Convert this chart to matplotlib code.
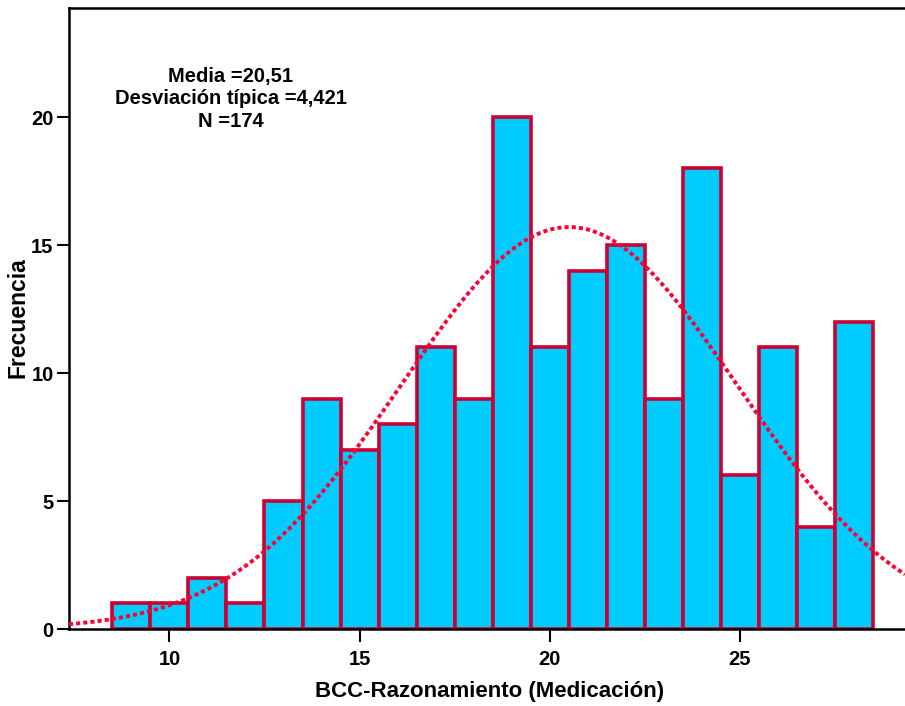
import numpy as np
import matplotlib.pyplot as plt

plt.rcParams['font.family'] = ['Liberation Sans', 'DejaVu Sans']
plt.rcParams['font.weight'] = 'bold'

# frecuencias por valor de la puntuacion
valores = [9, 10, 11, 12, 13, 14, 15, 16, 17, 18, 19, 20, 21, 22, 23, 24, 25, 26, 27, 28]
frecuencias = [1, 1, 2, 1, 5, 9, 7, 8, 11, 9, 20, 11, 14, 15, 9, 18, 6, 11, 4, 12]
media = 20.51
desv = 4.421
n = 174

fig = plt.figure(figsize=(9.05, 7.06), dpi=100)
ax = fig.add_axes([0.0762, 0.109, 0.9238, 0.8797])

ax.bar(valores, frecuencias, width=1.0, color='#00CCFF', edgecolor='#CC0033',
       linewidth=2.6, zorder=2)

# curva normal escalada al numero de casos
x0, x1 = 7.36, 29.34
xs = np.linspace(x0, x1, 400)
curva = n * 1.0 / (desv * np.sqrt(2 * np.pi)) * np.exp(-0.5 * ((xs - media) / desv) ** 2)
ax.plot(xs, curva, color='#FF0033', linewidth=2.8, linestyle=(0, (1.05, 0.8)), zorder=3)

ax.set_xlim(x0, x1)
ax.set_ylim(0, 24.26)
ax.set_xticks([10, 15, 20, 25])
ax.set_yticks([0, 5, 10, 15, 20])
ax.tick_params(axis='y', direction='out', length=8.6, width=1.5, pad=2.5, labelsize=14.5)
ax.tick_params(axis='x', direction='out', length=9.4, width=1.5, pad=5.5, labelsize=14.5)
for lab in ax.get_xticklabels() + ax.get_yticklabels():
    lab.set_fontweight('bold')

ax.spines['right'].set_visible(False)
for s in ['left', 'bottom', 'top']:
    ax.spines[s].set_linewidth(1.8)

fig.text(0.5411, 1 - 692 / 706, 'BCC-Razonamiento (Medicación)', ha='center', va='center',
         fontsize=16, fontweight='bold')
fig.text(18 / 905, 1 - 318 / 706, 'Frecuencia', ha='center', va='center', rotation=90,
         fontsize=16.5, fontweight='bold')

texto = 'Media =%s\nDesviación típica =%s\nN =%d' % (str(media).replace('.', ','),
                                                    str(desv).replace('.', ','), n)
fig.text(231 / 905, 1 - 99 / 706, texto, ha='center', va='center', fontsize=14.5,
         fontweight='bold', linespacing=1.22)

fig.savefig('out.png', dpi=100)
